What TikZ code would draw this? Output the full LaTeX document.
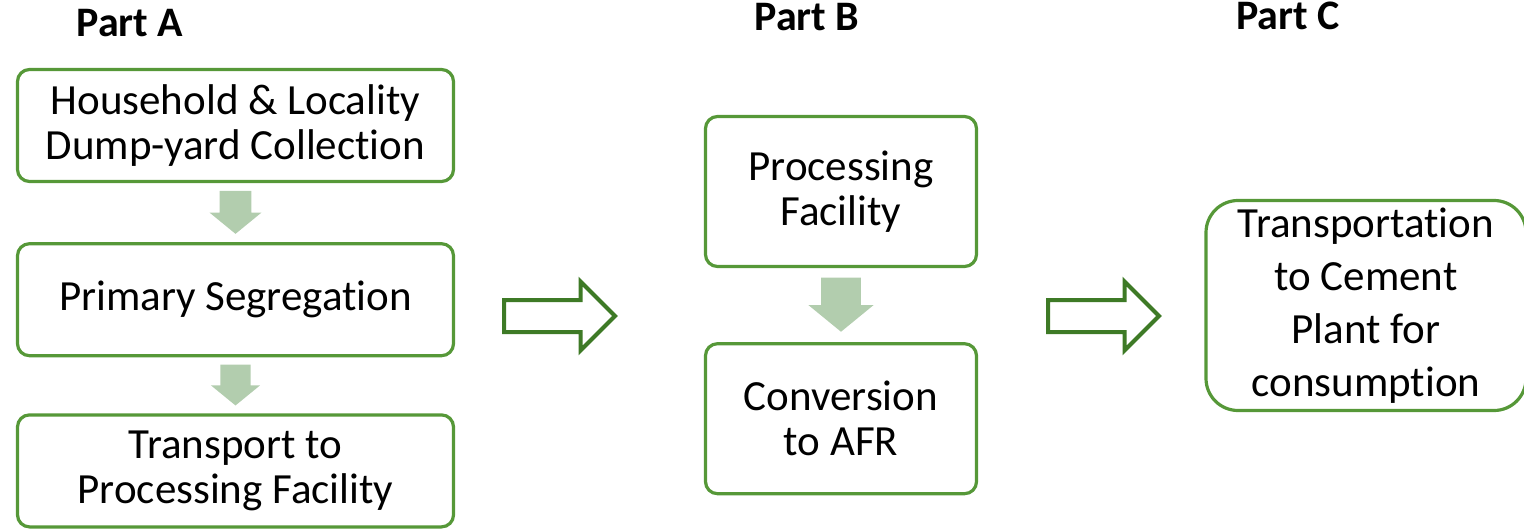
\documentclass[tikz,border=0pt]{standalone}
\usepackage{fontspec}
\setmainfont{Carlito}[RawFeature={-liga;-clig;-calt;-dlig}]
\usetikzlibrary{positioning,shapes.arrows,calc}
\usepackage{xcolor}
\definecolor{boxgreen}{RGB}{86,152,56}
\definecolor{arrowgreen}{RGB}{62,122,38}
\definecolor{flowgreen}{RGB}{178,205,174}

% light block arrow between two stacked boxes
\newcommand{\flowarrow}[2]{%
  \fill[flowgreen] let \p1=(#1.south), \p2=(#2.north), \n1={\y1-\y2} in
    (\x1-0.27*\n1,\y1-0.13*\n1) -- (\x1+0.27*\n1,\y1-0.13*\n1) --
    (\x1+0.27*\n1,\y1-0.5*\n1) -- (\x1+0.44*\n1,\y1-0.5*\n1) --
    (\x1,\y1-0.86*\n1) -- (\x1-0.44*\n1,\y1-0.5*\n1) --
    (\x1-0.27*\n1,\y1-0.5*\n1) -- cycle;}

\begin{document}
\begin{tikzpicture}[
    x=0.5pt, y=-0.5pt,
    box/.style={draw=boxgreen, line width=1.6pt, rounded corners=6pt, minimum width=218pt, minimum height=56pt, inner sep=0pt, align=center, font={\fontsize{21.5}{22.5}\selectfont}},
    boxB/.style={box, minimum width=135.5pt, minimum height=75pt},
    boxC/.style={box, rounded corners=16pt, minimum width=160pt, minimum height=105pt, font={\fontsize{21.5}{26.5}\selectfont}},
    title/.style={anchor=base, font={\fontsize{21}{22}\selectfont\bfseries}},
    bigarrow/.style={single arrow, draw=arrowgreen, line width=2pt, fill=white, anchor=tail, inner xsep=0pt, inner ysep=7pt, outer sep=0pt, single arrow head extend=9.25pt, minimum height=55.5pt},
]
\useasboundingbox (0,0) rectangle (1524,529);
\clip (0,0) rectangle (1524,529);

% Titles
\node[title] (parta) at (130,37) {Part A};
\node[title] (partb) at (807,31) {Part B};
\node[title] (partc) at (1288,30) {Part C};

% Part A, top-to-bottom
\node[box] (collect) at (235.5,125.5) {Household \& Locality\\Dump-yard Collection};
\node[box, below=29.5pt of collect]   (segregate) {Primary Segregation};
\node[box, below=28pt of segregate]   (transport) {Transport to\\Processing Facility};

% Part B
\node[boxB] (facility) at (841,191.5) {Processing\\Facility};
\node[boxB, below=37pt of facility] (convert) {Conversion\\to AFR};

% Part C
\node[boxC] (cement) at (1366,305.5) {Transportation\\to Cement\\Plant for\\consumption};

% Arrows inside the parts
\flowarrow{collect}{segregate}
\flowarrow{segregate}{transport}
\flowarrow{facility}{convert}

% Arrows between the parts
\node[bigarrow] (atob) at (504,316) {};
\node[bigarrow] (btoc) at (1048,316) {};

\end{tikzpicture}
\end{document}
